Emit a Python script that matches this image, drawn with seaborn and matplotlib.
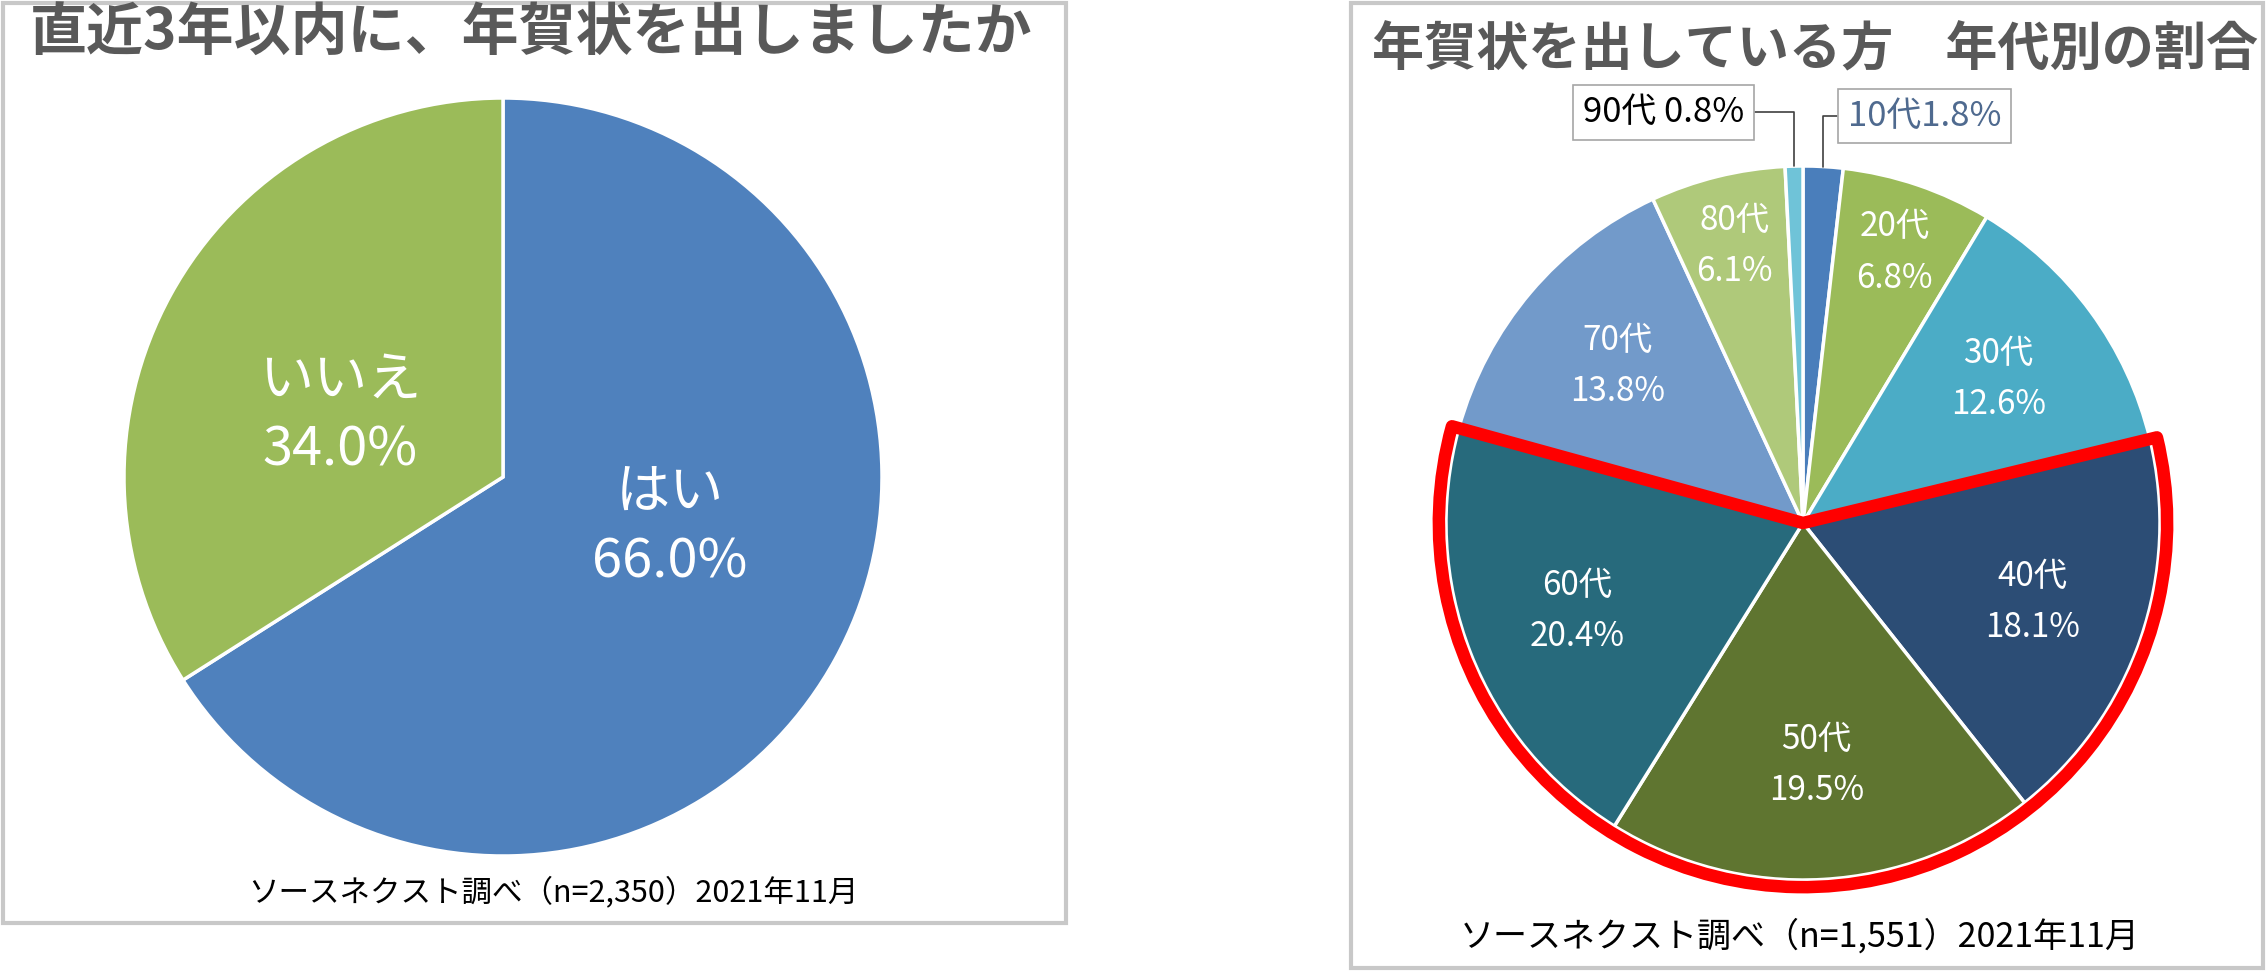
import numpy as np
import matplotlib.pyplot as plt
import seaborn as sns
from matplotlib.patches import Rectangle, Wedge

# 左: 直近3年以内に年賀状を出したか
yn_labels = ['はい', 'いいえ']
yn_values = [66.0, 34.0]
yn_colors = ['#4F81BD', '#9BBB59']

# 右: 年代別の割合
age_labels = ['10代', '20代', '30代', '40代', '50代', '60代', '70代', '80代', '90代']
age_values = [1.8, 6.8, 12.6, 18.1, 19.5, 20.4, 13.8, 6.1, 0.8]
age_colors = ['#4A7EBB', '#9BBB59', '#4BACC6', '#2C4D75', '#5F7530',
              '#276A7C', '#729ACA', '#AFC97A', '#6FC3D8']
highlight = ['40代', '50代', '60代']   # 赤枠で囲む年代
boxed = ['10代', '90代']               # 外に箱ラベル

title_left = '直近3年以内に、年賀状を出しましたか'
title_right = '年賀状を出している方\u3000年代別の割合'
note_left = 'ソースネクスト調べ（n=2,350）2021年11月'
note_right = 'ソースネクスト調べ（n=1,551）2021年11月'

sns.set_theme(style='white')
plt.rcParams['font.family'] = ['Noto Sans CJK JP', 'DejaVu Sans']

W, H = 2267, 972
fig = plt.figure(figsize=(W / 100, H / 100), dpi=100)
fig.patch.set_facecolor('white')

# パネルの枠
for x0, y0, x1, y1 in [(3, 3, 1066, 923), (1351, 3, 2263, 968)]:
    fig.add_artist(Rectangle((x0 / W, 1 - y1 / H), (x1 - x0) / W, (y1 - y0) / H,
                             transform=fig.transFigure, fill=False,
                             edgecolor='#C8C8C8', linewidth=3))


def pie_axes(cx, cy, r):
    # r ピクセルがデータ単位 1 になるように配置
    ax = fig.add_axes([(cx - 1.1 * r) / W, 1 - (cy + 1.1 * r) / H, 2.2 * r / W, 2.2 * r / H])
    ax.axis('off')
    return ax


def fix_limits(ax):
    # pie() が ±1.25 に戻すので後から設定し直す
    ax.set_xlim(-1.1, 1.1)
    ax.set_ylim(-1.1, 1.1)
    ax.set_aspect('equal')


# ---- 左の円グラフ ----
ax1 = pie_axes(503, 477, 379)
wedges, _ = ax1.pie(yn_values, colors=yn_colors, startangle=90, counterclock=False,
                    radius=1.0, wedgeprops=dict(edgecolor='white', linewidth=2.5))
fix_limits(ax1)
for w, lab, v in zip(wedges, yn_labels, yn_values):
    # Excel風に少し水平寄りに置く
    mid = (w.theta1 + w.theta2) / 2
    ang = np.deg2rad(mid + (8 if np.cos(np.deg2rad(mid)) < 0 else 12))
    ax1.text(0.46 * np.cos(ang), 0.46 * np.sin(ang), f'{lab}\n{v:.1f}%',
             ha='center', va='center', color='white', fontsize=39, linespacing=1.35)

fig.text(531 / W, 1 - 34 / H, title_left, ha='center', va='center',
         fontsize=41, fontweight='bold', color='#595959')
fig.text(553 / W, 1 - 892 / H, note_left, ha='center', va='center',
         fontsize=22, color='black')

# ---- 右の円グラフ ----
ax2 = pie_axes(1803, 523, 357)
wedges2, _ = ax2.pie(age_values, colors=age_colors, startangle=90, counterclock=False,
                     radius=1.0, wedgeprops=dict(edgecolor='white', linewidth=2.5))
fix_limits(ax2)

for w, lab, v in zip(wedges2, age_labels, age_values):
    ang = np.deg2rad((w.theta1 + w.theta2) / 2)
    if lab in boxed:
        continue
    d = 0.8 if v < 10 else 0.68
    ax2.text(d * np.cos(ang), d * np.sin(ang), f'{lab}\n{v:.1f}%',
             ha='center', va='center', color='white', fontsize=24, linespacing=1.6)

# 小さい年代は箱ラベル + 引き出し線
box_pos = {'90代': (-0.39, 1.15), '10代': (0.34, 1.14)}
box_text = {'90代': '{lab} {v:.1f}%', '10代': '{lab}{v:.1f}%'}
box_color = {'90代': 'black', '10代': '#4F6A8F'}
for w, lab, v in zip(wedges2, age_labels, age_values):
    if lab not in boxed:
        continue
    ang = np.deg2rad((w.theta1 + w.theta2) / 2)
    tx, ty = box_pos[lab]
    side = 1 if tx < 0 else -1
    ax2.annotate(box_text[lab].format(lab=lab, v=v),
                 xy=(np.cos(ang), np.sin(ang)), xytext=(tx, ty),
                 ha='center', va='center', fontsize=25, color=box_color[lab],
                 bbox=dict(boxstyle='square,pad=0.28', fc='white', ec='#A6A6A6', lw=1.2),
                 arrowprops=dict(arrowstyle='-', color='#404040', lw=1.2,
                                 connectionstyle='angle,angleA=%d,angleB=90,rad=0' % (0 if side > 0 else 180),
                                 shrinkA=0, shrinkB=0))

# 40〜60代を赤枠で強調
idx = [age_labels.index(h) for h in highlight]
t_start = min(wedges2[i].theta1 for i in idx)
t_end = max(wedges2[i].theta2 for i in idx)
ax2.add_patch(Wedge((0, 0), 1.02, t_start, t_end, fill=False, edgecolor='#FF0000',
                    linewidth=9, joinstyle='round', clip_on=False))

fig.text(1815 / W, 1 - 50 / H, title_right, ha='center', va='center',
         fontsize=37.5, fontweight='bold', color='#595959')
fig.text(1800 / W, 1 - 937 / H, note_right, ha='center', va='center',
         fontsize=24.5, color='black')

fig.savefig('out.png', dpi=100, facecolor='white')
